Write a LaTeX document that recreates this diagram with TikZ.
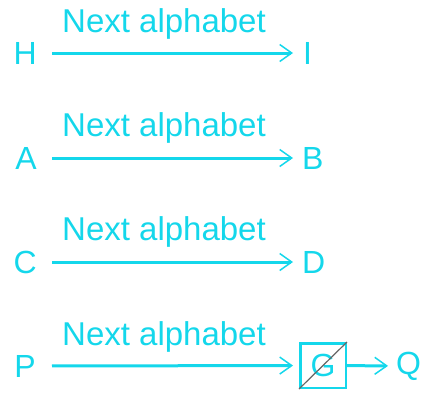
\documentclass[tikz,border=0pt]{standalone}
\usepackage{fontspec}
\setmainfont{Liberation Sans}
\usetikzlibrary{arrows.meta}
\definecolor{cy}{RGB}{20,215,235}
\begin{document}
\begin{tikzpicture}[x=1pt,y=-1pt,
  every node/.style={text=cy,font=\fontsize{32}{38}\selectfont,inner sep=0pt},
  lft/.style={anchor=east},
  rgt/.style={anchor=west},
  arr/.style={draw=cy,line width=3pt,-{Straight Barb[length=12pt,width=17pt,line width=1.5pt]}},
  lbl/.style={anchor=base,font=\fontsize{33}{38}\selectfont},
  gbox/.style={draw=cy,line width=2.5pt,minimum width=45.5pt,minimum height=44.5pt}]
\useasboundingbox (0,0) rectangle (424,392);
% row 1
\node[lft] (H) at (37,53) {H};
\node[rgt] (I) at (303,53) {I};
\draw[arr,shorten <=15pt,shorten >=10pt] (H) -- (I);
\node[lbl] (l1) at (164,32) {Next alphabet};
% row 2
\node[lft] (A) at (37,158) {A};
\node[rgt] (B) at (302,158) {B};
\draw[arr,shorten <=15pt,shorten >=9pt] (A) -- (B);
\node[lbl] (l2) at (164,136) {Next alphabet};
% row 3
\node[lft] (C) at (37,262) {C};
\node[rgt] (D) at (302,262) {D};
\draw[arr,shorten <=15pt,shorten >=9pt] (C) -- (D);
\node[lbl] (l3) at (164,240) {Next alphabet};
% row 4
\node[lft] (P) at (36,366) {P};
\node[gbox] (G) at (323,365.5) {G};
\draw[gray!80!black,line width=1.2pt] (G.south west) -- (G.north east);
\node[rgt] (Q) at (396,366) {Q};
\draw[arr,shorten <=16pt,shorten >=6pt] (P) -- (G);
\draw[arr,shorten >=8pt] (G) -- (Q);
\node[lbl] (l4) at (164,345) {Next alphabet};
\end{tikzpicture}
\end{document}
